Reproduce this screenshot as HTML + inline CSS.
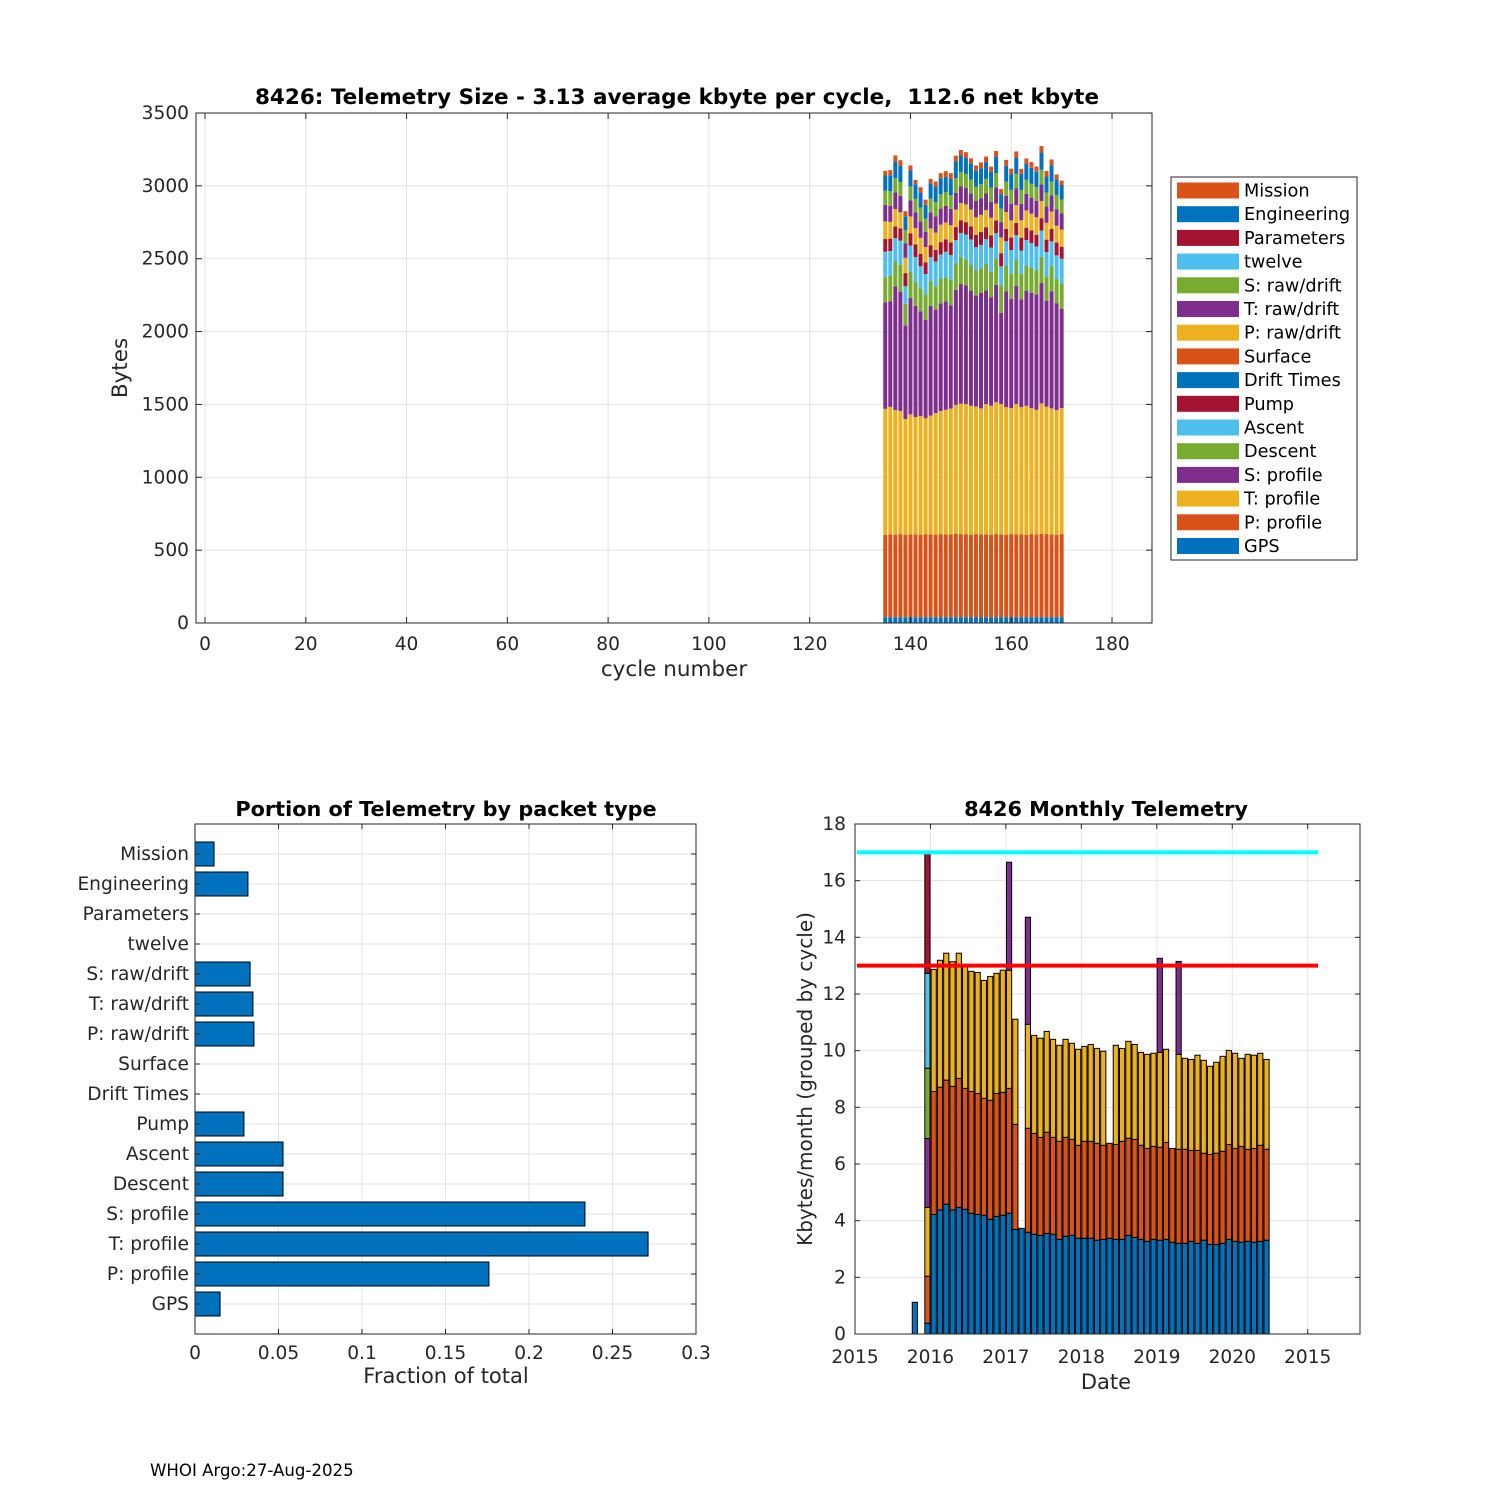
<!DOCTYPE html>
<html><head><meta charset="utf-8">
<style>
html,body{margin:0;padding:0;background:#fff;}
svg{display:block;font-family:"DejaVu Sans","Liberation Sans",sans-serif;}
text{white-space:pre;}
</style></head>
<body>
<svg id="fig" width="1500" height="1500" viewBox="0 0 1500 1500" xmlns="http://www.w3.org/2000/svg">
<rect width="1500" height="1500" fill="#fff"/>
<g id="top"></g>
<g id="bl"></g>
<g id="br"></g>
<text x="150" y="1476" font-size="16.6" fill="#000">WHOI Argo:27-Aug-2025</text>
</svg>
<script>
// ---------- TOP CHART DATA ----------
const cycles = [135,136,137,138,139,140,141,142,143,144,145,146,147,148,149,150,151,152,153,154,155,156,157,158,159,160,161,162,163,164,165,166,167,168,169,170];
const gps = [40,40,40,40,40,40,40,40,40,40,40,40,40,40,40,40,40,40,40,40,40,40,40,40,40,40,40,40,40,40,40,40,40,40,40,40];
const pProfile = [565,568,566,570,565,567,568,566,570,568,566,570,568,567,572,570,568,566,570,568,567,566,570,568,566,570,568,567,566,570,568,572,570,568,566,570];
const tProfile = [865,875,855,845,795,825,805,815,795,815,835,845,855,865,885,895,895,885,875,865,895,885,905,895,875,865,895,875,885,865,855,895,875,865,855,865];
const sProfile = [731,725,850,819,641,798,763,717,675,753,710,739,745,708,790,821,815,790,762,792,780,745,805,625,794,749,810,739,790,792,791,826,725,804,734,680];
const descent = [171,175,170,185,150,180,165,160,175,170,160,170,165,175,180,185,178,176,172,170,182,175,180,190,175,170,178,175,172,170,165,180,170,172,168,175];
const ascent = [176,170,160,165,120,180,170,150,140,165,170,165,175,170,160,165,170,175,160,160,170,165,175,130,170,165,170,160,175,170,165,180,165,170,160,170];
const pump = [87,85,80,85,90,85,88,85,80,82,80,85,85,87,90,88,85,90,85,88,82,85,88,90,85,86,85,88,85,87,80,85,86,85,88,82];
const driftTimes = new Array(36).fill(0);
const surface = new Array(36).fill(0);
const pRaw = [121,115,120,110,105,115,112,110,105,115,118,120,115,118,120,118,122,115,120,118,117,120,115,108,115,118,122,120,118,115,120,118,115,120,115,118];
const tRaw = [114,110,115,112,100,110,108,112,105,110,112,110,114,112,115,116,112,110,114,112,115,110,112,105,112,114,116,112,114,110,112,115,112,110,114,110];
const sRaw = [96,100,98,95,90,95,92,96,90,95,96,98,96,95,100,98,96,95,96,98,100,96,98,92,96,95,98,96,97,95,96,100,96,95,98,96];
const twelve = new Array(36).fill(0);
const parameters = new Array(36).fill(0);
const engineering = [105,110,115,110,95,110,100,105,95,105,108,110,105,110,115,112,110,112,108,110,115,110,112,100,110,108,112,110,108,110,105,120,110,112,105,100];
const mission = [32,35,40,40,35,35,30,35,35,30,35,35,38,40,40,38,40,35,38,40,38,35,40,35,40,38,42,35,38,40,36,42,38,40,35,30];
const topXTicks = [0,20,40,60,80,100,120,140,160,180];
const topYTicks = [0,500,1000,1500,2000,2500,3000,3500];

// ---------- BOTTOM LEFT DATA ----------
const packetNames = ["GPS","P: profile","T: profile","S: profile","Descent","Ascent","Pump","Drift Times","Surface","P: raw/drift","T: raw/drift","S: raw/drift","twelve","Parameters","Engineering","Mission"];
const packetFractions = [0.015,0.176,0.2713,0.2335,0.0527,0.0527,0.0293,0,0,0.0353,0.0347,0.033,0,0,0.0317,0.0114];
const fracTicks = [0,0.05,0.1,0.15,0.2,0.25,0.3];
const fracTickLabels = ["0","0.05","0.1","0.15","0.2","0.25","0.3"];

// ---------- BOTTOM RIGHT DATA (months since Jan 2016) ----------
const months = [-3,-1,0,1,2,3,4,5,6,7,8,9,10,11,12,13,14,15,16,17,18,19,20,21,22,23,24,25,26,27,28,29,30,31,32,33,34,35,36,37,38,39,40,41,42,43,44,45,46,47,48,49,50,51,52,53];
const blueTop = [1.12,0.38,4.22,4.38,4.58,4.38,4.47,4.40,4.26,4.22,4.19,4.05,4.15,4.19,4.26,3.69,3.73,3.59,3.52,3.48,3.55,3.52,3.34,3.45,3.48,3.38,3.38,3.38,3.31,3.34,3.38,3.34,3.34,3.48,3.41,3.34,3.27,3.34,3.31,3.34,3.24,3.20,3.20,3.27,3.20,3.31,3.16,3.16,3.20,3.34,3.27,3.24,3.27,3.24,3.27,3.31];
const orangeTop = [0,2.04,8.56,8.71,8.96,8.74,9.02,8.67,8.56,8.49,8.32,8.25,8.49,8.53,8.67,7.40,0,7.26,7.08,6.94,7.12,6.94,6.80,6.94,6.87,6.66,6.80,6.80,6.73,6.66,6.73,6.69,6.80,6.91,6.87,6.66,6.55,6.62,6.59,6.76,6.55,6.52,6.52,6.48,6.48,6.38,6.34,6.38,6.45,6.69,6.55,6.62,6.52,6.55,6.66,6.52];
const yellowTop = [0,4.47,12.87,13.19,13.44,13.14,13.44,12.96,12.80,12.76,12.48,12.62,12.73,12.84,12.84,11.11,0,10.93,10.54,10.44,10.68,10.40,10.19,10.40,10.26,10.05,10.15,10.22,10.08,9.98,0,10.19,10.08,10.33,10.22,9.94,9.87,9.91,9.94,10.05,0,9.87,9.73,9.69,9.84,9.66,9.45,9.59,9.80,10.01,9.91,9.73,9.87,9.84,9.91,9.69];
const purpleTop = [0,6.90,0,0,0,0,0,0,0,0,0,0,0,0,16.65,0,0,14.71,0,0,0,0,0,0,0,0,0,0,0,0,0,0,0,0,0,0,0,0,13.26,0,0,13.15,0,0,0,0,0,0,0,0,0,0,0,0,0,0];
const greenTop = [0,9.38,0,0,0,0,0,0,0,0,0,0,0,0,0,0,0,0,0,0,0,0,0,0,0,0,0,0,0,0,0,0,0,0,0,0,0,0,0,0,0,0,0,0,0,0,0,0,0,0,0,0,0,0,0,0];
const cyanTop = [0,12.73,0,0,0,0,0,0,0,0,0,0,0,0,0,0,0,0,0,0,0,0,0,0,0,0,0,0,0,0,0,0,0,0,0,0,0,0,0,0,0,0,0,0,0,0,0,0,0,0,0,0,0,0,0,0];
const redTop = [0,16.96,0,0,0,0,0,0,0,0,0,0,0,0,0,0,0,0,0,0,0,0,0,0,0,0,0,0,0,0,0,0,0,0,0,0,0,0,0,0,0,0,0,0,0,0,0,0,0,0,0,0,0,0,0,0];
const monthlyYTicks = [0,2,4,6,8,10,12,14,16,18];
const dateTickLabels = ["2015","2016","2017","2018","2019","2020","2015"];
const upperLimit = [17];
const lowerLimit = [13];

// ---------- helpers ----------
const NS="http://www.w3.org/2000/svg";
function mk(parent,tag,attrs,text){const e=document.createElementNS(NS,tag);for(const k in attrs)e.setAttribute(k,attrs[k]);if(text!==undefined)e.textContent=text;parent.appendChild(e);return e;}
const C={blue:"#0072BD",orange:"#D95319",yellow:"#EDB120",purple:"#7E2F8E",green:"#77AC30",cyan:"#4DBEEE",red:"#A2142F"};
const AX="#262626", GRID="#e3e3e3";
const TF=18.6;

// ---------- TOP CHART ----------
(function(){
 const g=document.getElementById('top');
 const L=196,R=1152,T=113,B=623;
 const X=c=>205+c*5.039, Y=b=>B-b*(B-T)/3500;
 for(const t of topXTicks){const l=mk(g,'line',{x1:X(t),x2:X(t),y1:T,y2:B,stroke:GRID,'stroke-width':1});
  }
 for(const t of topYTicks){const l=mk(g,'line',{x1:L,x2:R,y1:Y(t),y2:Y(t),stroke:GRID,'stroke-width':1});
  }
 const layers=[[gps,C.blue],[pProfile,C.orange],[tProfile,C.yellow],[sProfile,C.purple],[descent,C.green],[ascent,C.cyan],[pump,C.red],[driftTimes,C.blue],[surface,C.orange],[pRaw,C.yellow],[tRaw,C.purple],[sRaw,C.green],[twelve,C.cyan],[parameters,C.red],[engineering,C.blue],[mission,C.orange]];
 const bw=4.0;
 cycles.forEach((c,i)=>{let acc=0;
  for(const [arr,col] of layers){const v=arr[i];if(v<=0)continue;
   const r=mk(g,'rect',{x:X(c)-bw/2,y:Y(acc+v),width:bw,height:Y(acc)-Y(acc+v),fill:col});
   
   acc+=v;}});
 const box=mk(g,'rect',{x:L,y:T,width:R-L,height:B-T,fill:'none',stroke:AX,'stroke-width':1});
 
 for(const t of topXTicks){
  mk(g,'line',{x1:X(t),x2:X(t),y1:B,y2:B-6,stroke:AX});mk(g,'line',{x1:X(t),x2:X(t),y1:T,y2:T+6,stroke:AX});
  const tx=mk(g,'text',{x:X(t),y:650,'font-size':TF,'text-anchor':'middle',fill:AX},String(t));
  }
 for(const t of topYTicks){
  mk(g,'line',{x1:L,x2:L+6,y1:Y(t),y2:Y(t),stroke:AX});mk(g,'line',{x1:R,x2:R-6,y1:Y(t),y2:Y(t),stroke:AX});
  const tx=mk(g,'text',{x:189,y:Y(t)+6,'font-size':TF,'text-anchor':'end',fill:AX},String(t));
  }
 const tt=mk(g,'text',{x:677,y:104,'font-size':21.5,'font-weight':'bold','text-anchor':'middle',fill:'#000'},"8426: Telemetry Size - 3.13 average kbyte per cycle,  112.6 net kbyte");
 
 const xl=mk(g,'text',{x:674,y:676,'font-size':21.5,'text-anchor':'middle',fill:AX},"cycle number");
 
 const yl=mk(g,'text',{x:0,y:0,'font-size':21.5,'text-anchor':'middle',fill:AX,transform:'translate(127,368) rotate(-90)'},"Bytes");
 
 // legend
 const lg=mk(g,'g',{});
 mk(lg,'rect',{x:1171,y:177,width:186,height:383,fill:'#fff',stroke:AX,'stroke-width':1});
 const names=["Mission","Engineering","Parameters","twelve","S: raw/drift","T: raw/drift","P: raw/drift","Surface","Drift Times","Pump","Ascent","Descent","S: profile","T: profile","P: profile","GPS"];
 const cols=[C.orange,C.blue,C.red,C.cyan,C.green,C.purple,C.yellow,C.orange,C.blue,C.red,C.cyan,C.green,C.purple,C.yellow,C.orange,C.blue];
 names.forEach((n,i)=>{const y=190.5+i*23.7;
  const e=mk(lg,'g',{});
  mk(e,'rect',{x:1177,y:y-8,width:62,height:16,fill:cols[i]});
  mk(e,'text',{x:1244,y:y+6,'font-size':17.7,fill:'#000'},n);});
})();

// ---------- BOTTOM LEFT ----------
(function(){
 const g=document.getElementById('bl');
 const L=195,R=696,T=824,B=1334;
 const X=v=>L+v*(R-L)/0.3, Y=p=>B-p*30;
 fracTicks.forEach(t=>{const l=mk(g,'line',{x1:X(t),x2:X(t),y1:T,y2:B,stroke:GRID});});
 packetNames.forEach((n,i)=>{const l=mk(g,'line',{x1:L,x2:R,y1:Y(i+1),y2:Y(i+1),stroke:GRID});});
 packetNames.forEach((n,i)=>{const v=packetFractions[i];
  if(v>0){const r=mk(g,'rect',{x:X(0),y:Y(i+1)-12,width:X(v)-X(0),height:24,fill:C.blue,stroke:'#000','stroke-width':1});
   }
  const tx=mk(g,'text',{x:189,y:Y(i+1)+6,'font-size':TF,'text-anchor':'end',fill:AX},n);
  
  mk(g,'line',{x1:L,x2:L+5,y1:Y(i+1),y2:Y(i+1),stroke:AX});mk(g,'line',{x1:R,x2:R-5,y1:Y(i+1),y2:Y(i+1),stroke:AX});});
 mk(g,'rect',{x:L,y:T,width:R-L,height:B-T,fill:'none',stroke:AX});
 fracTicks.forEach((t,i)=>{mk(g,'line',{x1:X(t),x2:X(t),y1:B,y2:B-5,stroke:AX});mk(g,'line',{x1:X(t),x2:X(t),y1:T,y2:T+5,stroke:AX});
  const tx=mk(g,'text',{x:X(t),y:1359,'font-size':TF,'text-anchor':'middle',fill:AX},fracTickLabels[i]);
  });
 const tt=mk(g,'text',{x:446,y:816,'font-size':20.8,'font-weight':'bold','text-anchor':'middle',fill:'#000'},"Portion of Telemetry by packet type");
 
 const xl=mk(g,'text',{x:446,y:1383,'font-size':21,'text-anchor':'middle',fill:AX},"Fraction of total");
 
})();

// ---------- BOTTOM RIGHT ----------
(function(){
 const g=document.getElementById('br');
 const L=855,R=1360,T=824,B=1334;
 const Y=v=>B-v*(B-T)/18, XM=m=>933.7+m*6.28, XT=k=>855+k*75.45;
 dateTickLabels.forEach((s,k)=>{const l=mk(g,'line',{x1:XT(k),x2:XT(k),y1:T,y2:B,stroke:GRID});});
 monthlyYTicks.forEach(t=>{const l=mk(g,'line',{x1:L,x2:R,y1:Y(t),y2:Y(t),stroke:GRID});});
 const bw=5.2;
 const stack=[[blueTop,C.blue],[orangeTop,C.orange],[yellowTop,C.yellow],[purpleTop,C.purple],[greenTop,C.green],[cyanTop,C.cyan],[redTop,C.red]];
 months.forEach((m,i)=>{let prev=0;
  for(const [arr,col] of stack){const top=arr[i];if(!(top>prev))continue;
   const r=mk(g,'rect',{x:XM(m)-bw/2,y:Y(top),width:bw,height:Y(prev)-Y(top),fill:col,stroke:'#000','stroke-width':1});
   
   prev=top;}});
 const l1=mk(g,'line',{x1:L+2,x2:1318,y1:Y(upperLimit[0]),y2:Y(upperLimit[0]),stroke:'#00FFFF','stroke-width':4});
 
 const l2=mk(g,'line',{x1:L+2,x2:1318,y1:Y(lowerLimit[0]),y2:Y(lowerLimit[0]),stroke:'#FF0000','stroke-width':4});
 
 mk(g,'rect',{x:L,y:T,width:R-L,height:B-T,fill:'none',stroke:AX});
 dateTickLabels.forEach((s,k)=>{mk(g,'line',{x1:XT(k),x2:XT(k),y1:B,y2:B-5,stroke:AX});mk(g,'line',{x1:XT(k),x2:XT(k),y1:T,y2:T+5,stroke:AX});
  const tx=mk(g,'text',{x:XT(k),y:1363,'font-size':TF,'text-anchor':'middle',fill:AX},s);
  });
 monthlyYTicks.forEach(t=>{mk(g,'line',{x1:L,x2:L+5,y1:Y(t),y2:Y(t),stroke:AX});mk(g,'line',{x1:R,x2:R-5,y1:Y(t),y2:Y(t),stroke:AX});
  const tx=mk(g,'text',{x:846,y:Y(t)+6,'font-size':TF,'text-anchor':'end',fill:AX},String(t));
  });
 const tt=mk(g,'text',{x:1106,y:816,'font-size':20.8,'font-weight':'bold','text-anchor':'middle',fill:'#000'},"8426 Monthly Telemetry");
 
 const xl=mk(g,'text',{x:1106,y:1389,'font-size':21,'text-anchor':'middle',fill:AX},"Date");
 
 const yl=mk(g,'text',{x:0,y:0,'font-size':20,'text-anchor':'middle',fill:AX,transform:'translate(812,1079) rotate(-90)'},"Kbytes/month (grouped by cycle)");
 
})();
</script>
</body></html>
